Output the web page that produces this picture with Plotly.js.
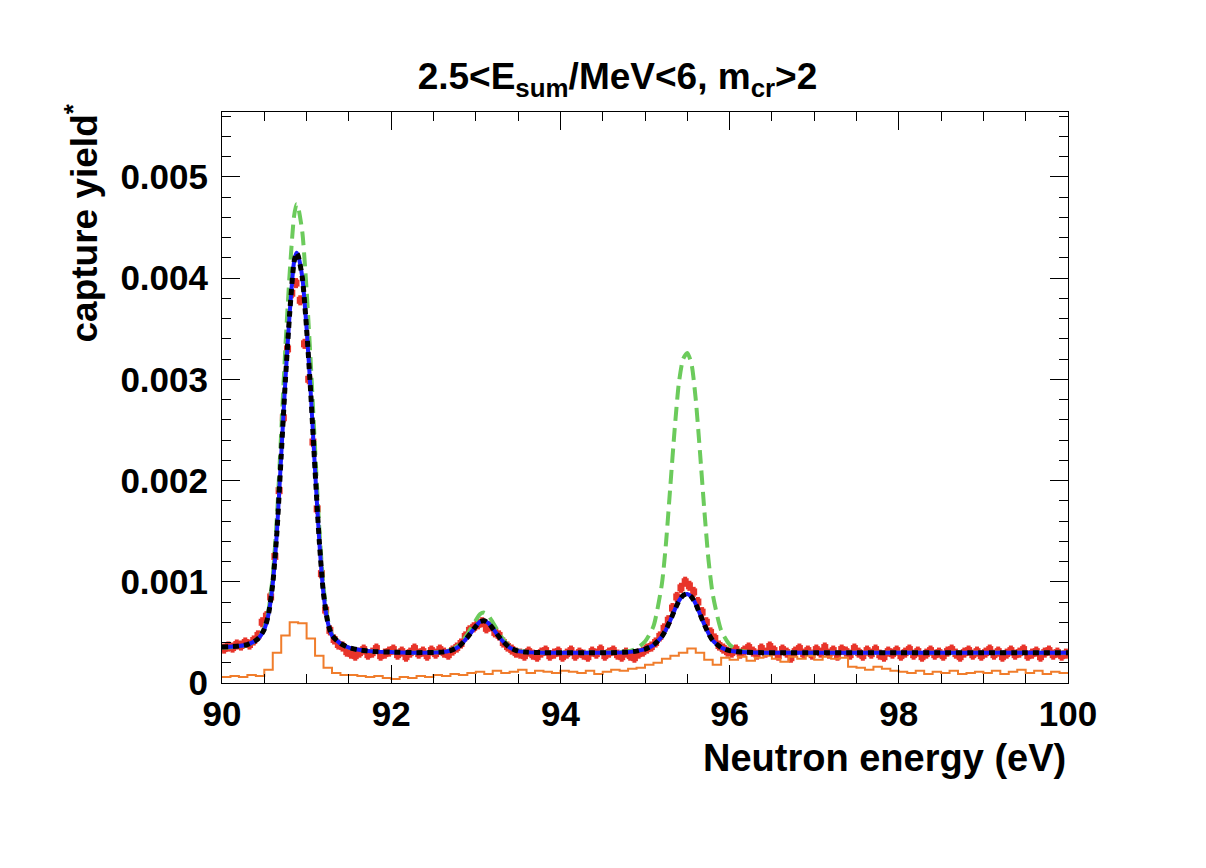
<!DOCTYPE html>
<html>
<head>
<meta charset="utf-8">
<script src="https://cdn.plot.ly/plotly-3.0.1.min.js"></script>
<style>html,body{margin:0;padding:0;background:#fff;}#chart{width:1206px;height:868px;}</style>
</head>
<body>
<div id="chart"></div>
<script>
// ---- Data ----
// Measured capture yield (red), bins of 0.05 eV starting at 90.0 eV
var dataStart = 90.0;
var dataBinWidth = 0.05;
var measuredYield = [
  0.00034,0.00036,0.00035,0.00038,0.00037,0.00040,0.00038,0.00042,0.00047,0.00060,
  0.00066,0.00085,0.00125,0.00190,0.00262,0.00330,0.00385,0.00395,0.00378,0.00335,
  0.00300,0.00238,0.00172,0.00108,0.00072,0.00052,0.00043,0.00038,0.00036,0.00031,
  0.00029,0.00027,0.00030,0.00033,0.00028,0.00030,0.00034,0.00027,0.00029,0.00031,
  0.00033,0.00028,0.00031,0.00026,0.00030,0.00034,0.00029,0.00031,0.00027,0.00032,
  0.00029,0.00033,0.00030,0.00028,0.00032,0.00035,0.00039,0.00046,0.00052,0.00055,
  0.00058,0.00060,0.00054,0.00056,0.00050,0.00047,0.00040,0.00036,0.00033,0.00030,
  0.00029,0.00027,0.00031,0.00028,0.00026,0.00030,0.00032,0.00027,0.00029,0.00031,
  0.00026,0.00029,0.00032,0.00027,0.00030,0.00028,0.00026,0.00031,0.00029,0.00033,
  0.00027,0.00030,0.00032,0.00028,0.00026,0.00030,0.00027,0.00025,0.00029,0.00031,
  0.00034,0.00036,0.00040,0.00046,0.00054,0.00062,0.00074,0.00085,0.00094,0.00100,
  0.00096,0.00090,0.00080,0.00070,0.00060,0.00050,0.00044,0.00037,0.00034,0.00031,
  0.00030,0.00033,0.00029,0.00032,0.00035,0.00031,0.00028,0.00034,0.00030,0.00036,
  0.00032,0.00027,0.00033,0.00030,0.00025,0.00031,0.00034,0.00029,0.00032,0.00028,
  0.00033,0.00030,0.00035,0.00029,0.00032,0.00027,0.00033,0.00031,0.00028,0.00034,
  0.00030,0.00027,0.00032,0.00029,0.00033,0.00028,0.00026,0.00031,0.00029,0.00032,
  0.00027,0.00030,0.00033,0.00028,0.00031,0.00026,0.00029,0.00032,0.00028,0.00030,
  0.00027,0.00031,0.00033,0.00029,0.00026,0.00030,0.00032,0.00028,0.00031,0.00027,
  0.00030,0.00033,0.00028,0.00031,0.00026,0.00029,0.00032,0.00028,0.00030,0.00033,
  0.00027,0.00029,0.00031,0.00026,0.00030,0.00032,0.00028,0.00030,0.00027,0.00029
];
var measuredError = 0.00005;

// Background histogram (orange), bins of 0.1 eV starting at 90.0 eV
var bkgStart = 90.0;
var bkgBinWidth = 0.1;
var backgroundYield = [
  0.00006,0.00007,0.00006,0.00008,0.00007,0.00013,0.00030,0.00047,0.00060,0.00059,
  0.00044,0.00027,0.00015,0.00010,0.00008,0.00008,0.00007,0.00006,0.00007,0.00005,
  0.00004,0.00006,0.00005,0.00007,0.00006,0.00008,0.00007,0.00009,0.00008,0.00010,
  0.00011,0.00009,0.00012,0.00010,0.00011,0.00013,0.00010,0.00012,0.00011,0.00010,
  0.00012,0.00011,0.00010,0.00012,0.00009,0.00011,0.00013,0.00012,0.00014,0.00015,
  0.00018,0.00020,0.00024,0.00027,0.00030,0.00034,0.00030,0.00023,0.00018,0.00025,
  0.00023,0.00026,0.00022,0.00025,0.00027,0.00024,0.00021,0.00026,0.00024,0.00027,
  0.00023,0.00026,0.00024,0.00025,0.00016,0.00015,0.00013,0.00016,0.00014,0.00012,
  0.00011,0.00010,0.00012,0.00009,0.00011,0.00010,0.00012,0.00009,0.00010,0.00011,
  0.00010,0.00012,0.00009,0.00011,0.00013,0.00010,0.00012,0.00009,0.00011,0.00010
];

// Fitted curves: energies and values
var curveEnergy = [
  90.0, 90.1, 90.2, 90.3, 90.4, 90.45, 90.5, 90.55, 90.6, 90.65,
  90.7, 90.75, 90.8, 90.85, 90.88, 90.9, 90.95, 91.0, 91.05, 91.1,
  91.15, 91.2, 91.25, 91.3, 91.4, 91.5, 91.6, 91.8, 92.0, 92.3,
  92.6, 92.7, 92.8, 92.9, 93.0, 93.05, 93.1, 93.15, 93.2, 93.3,
  93.4, 93.5, 93.6, 93.8, 94.0, 94.3, 94.6, 94.8, 94.9, 95.0,
  95.1, 95.2, 95.25, 95.3, 95.35, 95.4, 95.45, 95.5, 95.55, 95.6,
  95.65, 95.7, 95.75, 95.8, 95.9, 96.0, 96.1, 96.2, 96.4, 96.6,
  97.0, 97.5, 98.0, 98.5, 99.0, 99.5, 100.0
];
var fitYield = [
  0.000355,0.000358,0.000365,0.000380,0.000420,0.000460,0.000530,0.000680,0.000980,0.001500,
  0.002250,0.003000,0.003650,0.004150,0.004250,0.004220,0.004000,0.003500,0.002850,0.002100,
  0.001400,0.000880,0.000600,0.000470,0.000390,0.000350,0.000330,0.000310,0.000305,0.000300,
  0.000305,0.000320,0.000360,0.000450,0.000560,0.000605,0.000615,0.000590,0.000540,0.000430,
  0.000350,0.000315,0.000305,0.000300,0.000300,0.000300,0.000300,0.000305,0.000315,0.000335,
  0.000375,0.000460,0.000530,0.000620,0.000720,0.000810,0.000865,0.000880,0.000850,0.000780,
  0.000680,0.000580,0.000490,0.000420,0.000350,0.000320,0.000308,0.000303,0.000300,0.000300,
  0.000300,0.000300,0.000300,0.000300,0.000300,0.000300,0.000300
];
var altYield = [
  0.000350,0.000352,0.000360,0.000375,0.000420,0.000465,0.000545,0.000720,0.001060,0.001650,
  0.002480,0.003330,0.004050,0.004600,0.004730,0.004700,0.004450,0.003880,0.003150,0.002320,
  0.001530,0.000950,0.000630,0.000480,0.000390,0.000350,0.000330,0.000310,0.000305,0.000300,
  0.000308,0.000325,0.000375,0.000480,0.000620,0.000680,0.000695,0.000665,0.000600,0.000460,
  0.000360,0.000320,0.000306,0.000300,0.000300,0.000300,0.000302,0.000315,0.000340,0.000410,
  0.000560,0.000980,0.001400,0.001950,0.002500,0.002960,0.003200,0.003260,0.003150,0.002800,
  0.002280,0.001720,0.001220,0.000880,0.000520,0.000380,0.000325,0.000308,0.000300,0.000300,
  0.000300,0.000300,0.000300,0.000300,0.000300,0.000300,0.000300
];

var xTickValues = [90, 92, 94, 96, 98, 100];
var xTickLabels = ['90', '92', '94', '96', '98', '100'];
var yTickValues = [0, 0.001, 0.002, 0.003, 0.004, 0.005];
var yTickLabels = ['0', '0.001', '0.002', '0.003', '0.004', '0.005'];

// ---- Build traces ----
var dataX = measuredYield.map(function (v, i) { return dataStart + dataBinWidth * (i + 0.5); });
var bkgX = backgroundYield.map(function (v, i) { return bkgStart + bkgBinWidth * i; });
var bkgY = backgroundYield.slice();
bkgX.push(bkgStart + bkgBinWidth * backgroundYield.length);
bkgY.push(backgroundYield[backgroundYield.length - 1]);

var FONT = 'Liberation Sans, Arial, Helvetica, sans-serif';
var RED = '#e8342a';

var traces = [
  {
    x: dataX, y: measuredYield, type: 'scatter', mode: 'markers',
    marker: {symbol: 'square', size: 7, color: RED},
    error_x: {visible: true, type: 'constant', value: dataBinWidth / 2, thickness: 4, width: 0, color: RED},
    error_y: {visible: true, type: 'constant', value: measuredError, thickness: 4, width: 0, color: RED}
  },
  {
    x: bkgX, y: bkgY, type: 'scatter', mode: 'lines',
    line: {color: '#f07d2c', width: 2, shape: 'hv'}
  },
  {
    x: curveEnergy, y: altYield, type: 'scatter', mode: 'lines',
    line: {color: '#6ccb5c', width: 4, dash: '14px,7px', shape: 'spline', smoothing: 0.6}
  },
  {
    x: curveEnergy, y: fitYield, type: 'scatter', mode: 'lines',
    line: {color: '#1a1aff', width: 4, shape: 'spline', smoothing: 0.6}
  },
  {
    x: curveEnergy, y: fitYield, type: 'scatter', mode: 'lines',
    line: {color: '#000000', width: 5, dash: '6px,5px', shape: 'spline', smoothing: 0.6}
  }
];

var layout = {
  width: 1206, height: 868,
  paper_bgcolor: '#ffffff', plot_bgcolor: '#ffffff',
  showlegend: false,
  margin: {l: 222, r: 138, t: 112, b: 185, pad: 0},
  font: {family: FONT, color: '#000', weight: 'bold'},
  title: {
    text: '2.5<E<sub>sum</sub>/MeV<6, m<sub>cr</sub>>2',
    font: {family: FONT, size: 37, color: '#000', weight: 'bold'},
    xref: 'container', yref: 'container', x: 0.512, y: 1 - 76 / 868,
    xanchor: 'center', yanchor: 'middle'
  },
  xaxis: {
    range: [90, 100], tickmode: 'array', tickvals: xTickValues, ticktext: xTickLabels,
    ticks: 'inside', ticklen: 18, tickwidth: 1, tickcolor: '#000',
    showline: true, linecolor: '#000', linewidth: 1, mirror: 'allticks',
    showgrid: false, zeroline: false,
    tickfont: {family: FONT, size: 35, color: '#000', weight: 'bold'},
    minor: {dtick: 0.5, tick0: 90, ticks: 'inside', ticklen: 9, tickcolor: '#000', tickwidth: 1, showgrid: false}
  },
  yaxis: {
    range: [0, 0.00564], tickmode: 'array', tickvals: yTickValues, ticktext: yTickLabels,
    ticks: 'inside', ticklen: 18, tickwidth: 1, tickcolor: '#000',
    showline: true, linecolor: '#000', linewidth: 1, mirror: 'allticks',
    showgrid: false, zeroline: false,
    ticklabelstandoff: 6,
    tickfont: {family: FONT, size: 35, color: '#000', weight: 'bold'},
    minor: {dtick: 0.0002, tick0: 0, ticks: 'inside', ticklen: 9, tickcolor: '#000', tickwidth: 1, showgrid: false}
  },
  annotations: [
    {
      text: 'Neutron energy (eV)', xref: 'paper', yref: 'paper', x: 1, y: 0,
      xanchor: 'right', yanchor: 'top', yshift: -52, showarrow: false,
      font: {family: FONT, size: 38, color: '#000', weight: 'bold'}
    },
    {
      text: 'capture yield<sup>*</sup>', xref: 'paper', yref: 'paper', x: 0, y: 1,
      xanchor: 'center', yanchor: 'top', xshift: -140, yshift: 10, textangle: -90, showarrow: false,
      font: {family: FONT, size: 37, color: '#000', weight: 'bold'}
    }
  ]
};

Plotly.newPlot('chart', traces, layout, {displayModeBar: false, staticPlot: true});
</script>
</body>
</html>
